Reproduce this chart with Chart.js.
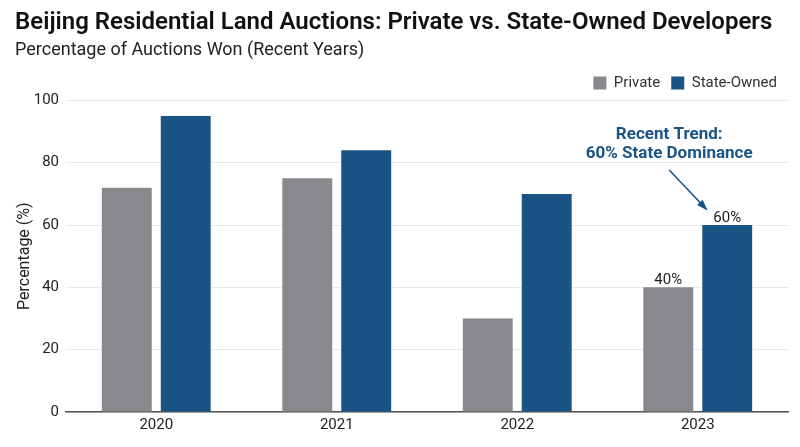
<!DOCTYPE html>
<html>
<head>
<meta charset="utf-8">
<script src="https://cdn.jsdelivr.net/npm/chart.js@4.4.1/dist/chart.umd.min.js"></script>
<style>
  html, body { margin: 0; padding: 0; background: #fff; }
  #wrap { width: 800px; height: 447px; }
</style>
</head>
<body>
<div id="wrap"><canvas id="myChart"></canvas></div>
<script>
// data
const years = ['2020', '2021', '2022', '2023'];
const privateShare = [72, 75, 30, 40];
const stateShare = [95, 84, 70, 60];
const yTicks = [0, 20, 40, 60, 80, 100];

const GRAY = '#87898c';
const BLUE = '#1a5485';
const FONT = 'Roboto, "Liberation Sans", sans-serif';

// value labels on the last year + the callout arrow
const notePlugin = {
  id: 'notes',
  afterDatasetsDraw(chart) {
    const c = chart.ctx;
    const last = years.length - 1;
    const p = chart.getDatasetMeta(0).data[last];
    const s = chart.getDatasetMeta(1).data[last];

    c.save();
    c.font = '15px ' + FONT;
    c.fillStyle = '#222';
    c.textAlign = 'center';
    c.textBaseline = 'alphabetic';
    c.fillText(privateShare[last] + '%', p.x, p.y - 3);
    c.fillText(stateShare[last] + '%', s.x, s.y - 3);

    // callout text
    const tx = s.x - 58;
    c.font = 'bold 17px ' + FONT;
    c.fillStyle = BLUE;
    c.textBaseline = 'middle';
    c.fillText('Recent Trend:', tx, s.y - 90);
    c.fillText('60% State Dominance', tx, s.y - 71);

    // arrow
    const x1 = tx, y1 = s.y - 55;
    const x2 = s.x - 21, y2 = s.y - 16;
    c.strokeStyle = BLUE;
    c.lineWidth = 1.6;
    c.beginPath();
    c.moveTo(x1, y1);
    c.lineTo(x2, y2);
    c.stroke();
    const ang = Math.atan2(y2 - y1, x2 - x1);
    c.beginPath();
    c.moveTo(x2 + 2 * Math.cos(ang), y2 + 2 * Math.sin(ang));
    c.lineTo(x2 - 10 * Math.cos(ang - 0.4), y2 - 10 * Math.sin(ang - 0.4));
    c.lineTo(x2 - 10 * Math.cos(ang + 0.4), y2 - 10 * Math.sin(ang + 0.4));
    c.closePath();
    c.fillStyle = BLUE;
    c.fill();
    c.restore();
  }
};

const ctx = document.getElementById('myChart').getContext('2d');

const chartConfig = {
  type: 'bar',
  data: {
    labels: years,
    datasets: [
      {
        label: 'Private',
        data: privateShare,
        backgroundColor: GRAY,
        categoryPercentage: 0.653,
        barPercentage: 0.847
      },
      {
        label: 'State-Owned',
        data: stateShare,
        backgroundColor: BLUE,
        categoryPercentage: 0.653,
        barPercentage: 0.847
      }
    ]
  },
  options: {
    responsive: true,
    maintainAspectRatio: false,
    animation: false,
    layout: { padding: { left: 15, right: 12, top: 4, bottom: 9 } },
    plugins: {
      title: {
        display: true,
        text: 'Beijing Residential Land Auctions: Private vs. State-Owned Developers',
        align: 'start',
        color: '#111',
        font: { family: FONT, size: 24, weight: '600' },
        padding: { top: 5, bottom: 2 }
      },
      subtitle: {
        display: true,
        text: 'Percentage of Auctions Won (Recent Years)',
        align: 'start',
        color: '#222',
        font: { family: FONT, size: 18 },
        padding: { bottom: 3 }
      },
      legend: {
        position: 'top',
        align: 'end',
        labels: {
          boxWidth: 13,
          boxHeight: 13,
          padding: 11,
          color: '#333',
          font: { family: FONT, size: 15 }
        }
      },
      tooltip: { enabled: false }
    },
    scales: {
      x: {
        grid: { display: false, drawTicks: false },
        border: { display: true, color: '#555', width: 1.5 },
        ticks: { color: '#222', font: { family: FONT, size: 15 }, padding: 4 }
      },
      y: {
        min: 0,
        max: 100,
        afterBuildTicks(axis) {
          axis.ticks = yTicks.map(v => ({ value: v }));
        },
        afterFit(axis) {
          axis.width = 51;
        },
        grid: { color: '#e9e9e9', lineWidth: 1, drawTicks: false },
        border: { display: false },
        ticks: { color: '#222', font: { family: FONT, size: 15 }, padding: 7 },
        title: {
          display: true,
          text: 'Percentage (%)',
          color: '#222',
          font: { family: FONT, size: 16 },
          padding: { top: 0, bottom: 0 }
        }
      }
    }
  },
  plugins: [notePlugin]
};

const myChart = new Chart(ctx, chartConfig);
</script>
</body>
</html>
